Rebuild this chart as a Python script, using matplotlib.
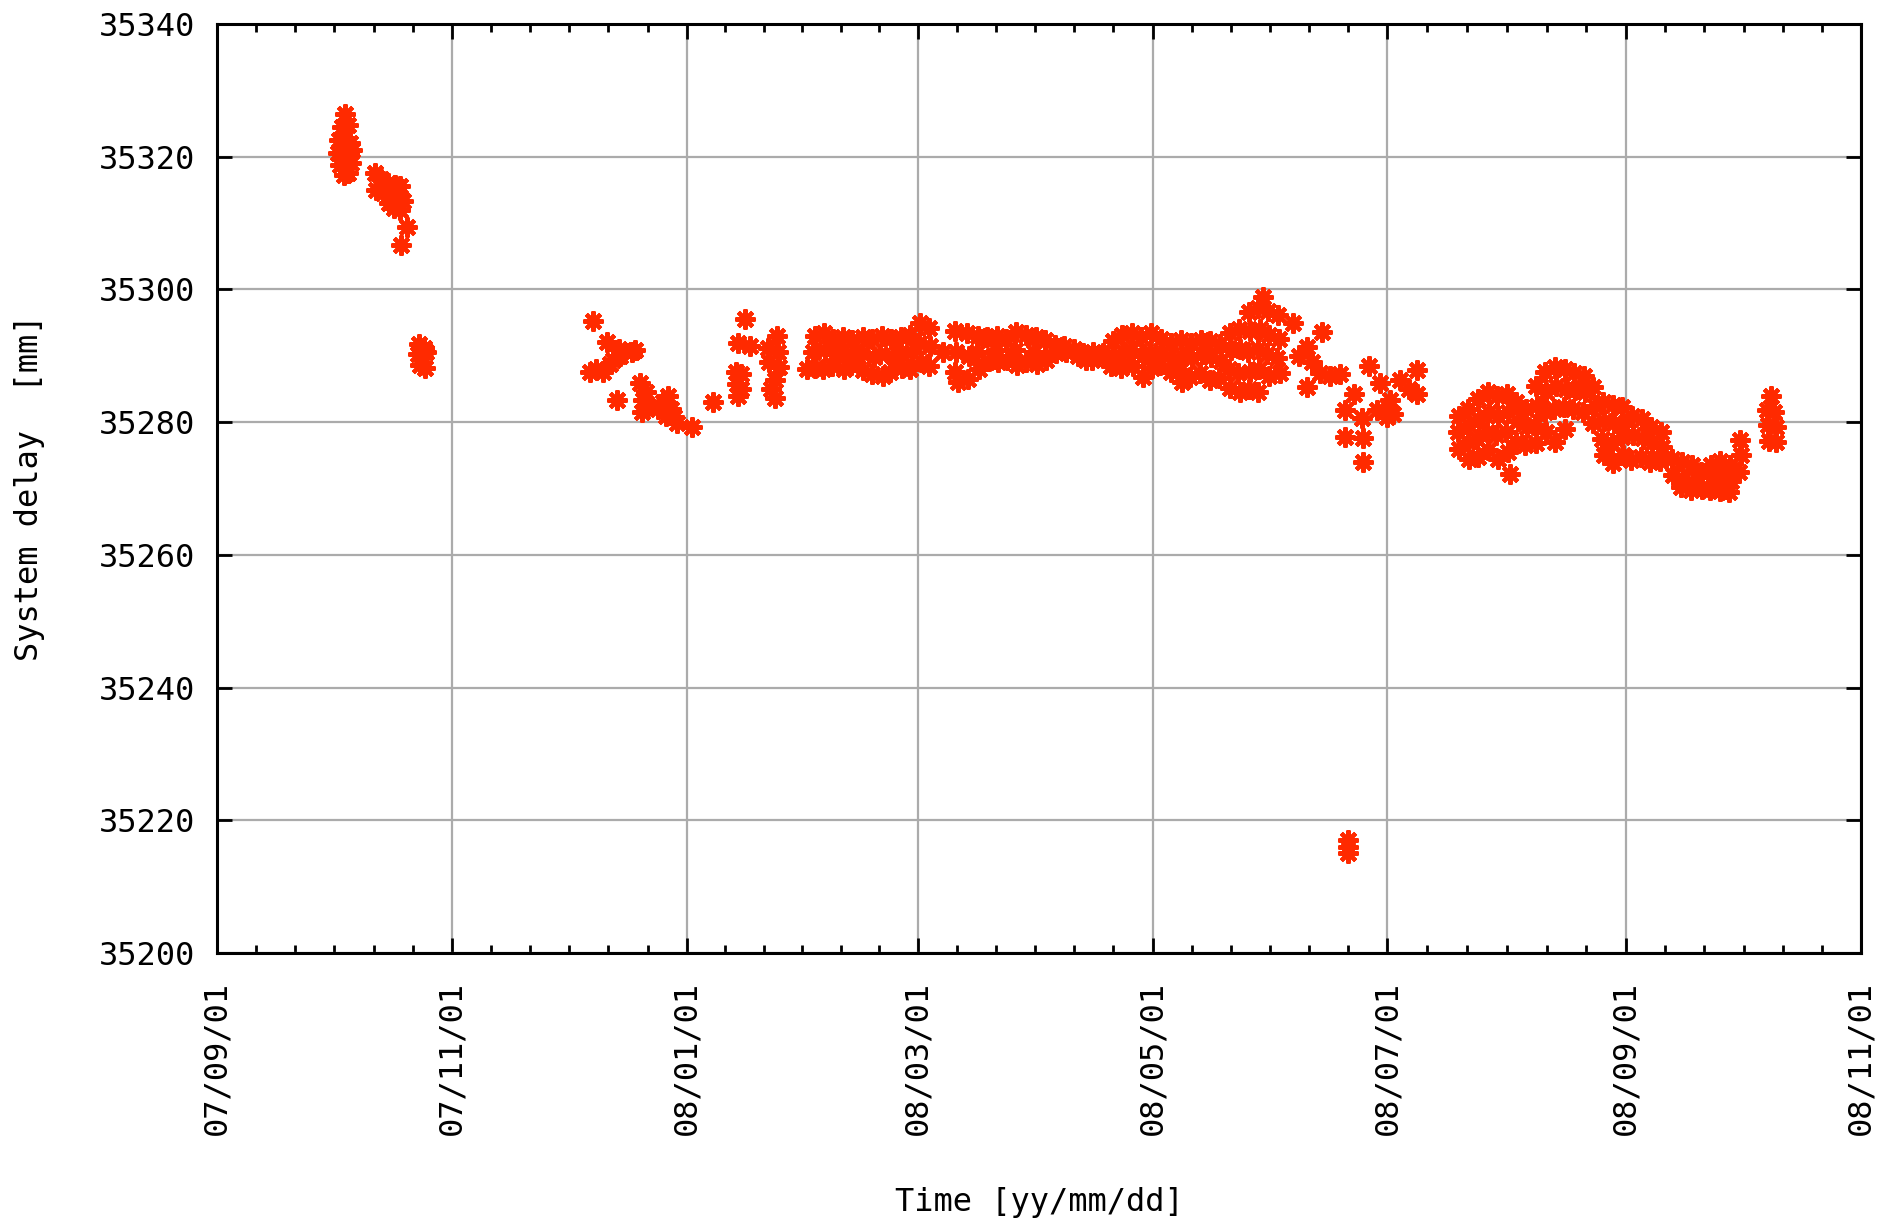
import datetime as dt

import numpy as np
import matplotlib
matplotlib.use("Agg")
import matplotlib.pyplot as plt
import matplotlib.dates as mdates
from matplotlib.ticker import FixedLocator

# -------------------------------------------------------
# System delay measurements
# (days since 2007-09-01, delay in mm)
# -------------------------------------------------------
oct07_a = [
    (33.2, 35326.5), (32.5, 35324.5), (34.0, 35324.8),
    (31.8, 35322.5), (33.0, 35322.8), (34.5, 35322.0),
    (31.5, 35320.5), (32.8, 35320.2), (34.2, 35320.6), (35.0, 35321.0),
    (32.0, 35318.8), (33.5, 35318.5), (34.8, 35319.0),
    (33.0, 35317.2), (34.0, 35317.5),
]

oct07_b = [
    (41.0, 35317.6), (42.6, 35316.6), (44.4, 35316.0), (46.3, 35315.8), (47.6, 35315.6),
    (41.3, 35315.0), (43.0, 35314.6), (45.0, 35314.4), (47.1, 35314.2),
    (44.6, 35313.0), (46.0, 35312.3), (47.6, 35312.0), (48.2, 35313.4),
    (49.4, 35309.4), (47.8, 35306.7),
]

oct07_c = [
    (52.5, 35291.8), (53.8, 35291.2), (52.2, 35290.3), (53.5, 35289.8),
    (54.2, 35290.5), (52.8, 35288.6), (53.9, 35288.2),
]

dec07_jan08 = [
    (97.6, 35295.3), (101.4, 35292.1), (107.7, 35290.6), (108.6, 35290.9),
    (96.9, 35287.6), (98.5, 35288.0), (100.3, 35287.5), (102.0, 35288.8),
    (102.9, 35289.4), (104.2, 35290.0), (104.7, 35289.9), (104.5, 35291.0),
    (103.8, 35283.4),
    (109.9, 35285.9), (111.5, 35284.5), (110.7, 35283.3), (110.3, 35281.5), (112.0, 35282.5),
    (114.5, 35282.0), (115.8, 35283.0), (117.2, 35284.0), (117.8, 35282.0),
    (118.8, 35280.8), (119.5, 35279.8), (116.5, 35281.0),
    (123.3, 35279.3), (128.8, 35283.0),
    (134.8, 35287.6), (136.0, 35287.2), (135.0, 35285.8), (136.2, 35285.0), (135.2, 35284.0),
    (137.1, 35295.6), (135.4, 35291.9), (138.4, 35291.4),
    (143.0, 35291.2), (145.4, 35293.0), (145.8, 35290.5), (143.5, 35289.0),
    (146.0, 35288.3), (145.0, 35286.4), (145.0, 35283.6), (144.0, 35285.0),
]

feb08_may08 = [
    (153.3, 35288.0),
    (155.2, 35293.0), (154.8, 35290.6), (155.4, 35288.2),
    (157.6, 35293.4), (157.9, 35290.8), (157.3, 35288.0),
    (160.1, 35292.6), (160.4, 35290.2), (159.8, 35288.4),
    (162.6, 35292.8), (162.3, 35290.6), (162.9, 35288.0),
    (165.0, 35292.4), (165.4, 35290.0), (164.8, 35288.6),
    (167.7, 35292.8), (167.4, 35290.4), (167.9, 35287.8),
    (170.2, 35292.5), (170.6, 35289.8), (170.0, 35287.2),
    (172.6, 35293.0), (172.3, 35290.2), (172.9, 35287.0),
    (175.1, 35292.6), (175.5, 35290.0), (174.8, 35287.6),
    (177.6, 35292.8), (177.3, 35290.4), (177.9, 35288.2),
    (180.1, 35293.2), (180.4, 35290.6), (179.9, 35288.0),
    (182.6, 35295.0), (182.3, 35292.0), (182.9, 35289.0),
    (185.0, 35294.2), (185.3, 35291.4), (184.8, 35288.4),
    (188.5, 35290.6),
    (191.6, 35293.8), (192.0, 35290.5), (191.8, 35287.6), (192.4, 35286.0),
    (194.8, 35293.5), (195.2, 35290.0), (195.0, 35286.5),
    (197.6, 35293.0), (197.3, 35290.5), (197.8, 35288.0),
    (200.1, 35292.8), (200.4, 35289.2),
    (202.6, 35293.0), (202.3, 35290.8), (202.9, 35289.0),
    (205.0, 35292.6), (205.3, 35289.4),
    (207.6, 35293.6), (207.3, 35290.8), (207.9, 35288.6),
    (210.2, 35293.2), (210.0, 35289.0),
    (212.6, 35292.8), (212.3, 35290.5), (212.9, 35288.7),
    (215.1, 35292.4), (215.4, 35289.4),
    (217.6, 35291.6), (218.0, 35290.4), (220.1, 35291.4), (220.4, 35290.6),
    (222.6, 35291.0), (223.5, 35290.0), (225.0, 35290.4), (225.6, 35289.4),
    (227.6, 35290.6), (227.3, 35289.4), (230.1, 35290.4), (230.4, 35289.6),
    (232.6, 35292.2), (232.9, 35289.8), (232.3, 35288.4),
    (235.0, 35293.2), (235.3, 35290.6), (234.8, 35288.2),
    (237.6, 35293.4), (237.3, 35290.8), (237.9, 35288.4),
    (240.1, 35292.8), (240.4, 35290.0), (240.5, 35286.8),
    (242.6, 35293.4), (242.3, 35290.6), (242.9, 35288.2),
    (245.1, 35292.6), (245.4, 35290.2), (244.8, 35288.6),
]

may08_jun08 = [
    (247.8, 35292.0), (248.2, 35289.5), (247.9, 35287.5),
    (250.4, 35292.4), (250.7, 35290.0), (250.2, 35287.8), (250.6, 35286.0),
    (253.0, 35292.0), (253.3, 35289.6), (252.8, 35286.8),
    (255.5, 35292.4), (255.8, 35290.2), (255.2, 35287.4),
    (258.0, 35292.2), (258.3, 35289.8), (257.8, 35286.4),
    (260.5, 35291.8), (260.8, 35289.2), (260.2, 35286.6),
    (263.0, 35293.4), (263.3, 35290.8), (262.8, 35288.0), (263.2, 35285.2),
    (265.5, 35294.0), (265.8, 35291.0), (265.3, 35287.4), (265.6, 35284.6),
    (268.0, 35296.6), (268.3, 35293.8), (267.8, 35290.6), (268.2, 35287.6), (268.0, 35285.0),
    (270.5, 35297.2), (270.8, 35294.0), (270.3, 35291.0), (270.6, 35288.0), (270.4, 35284.6),
    (271.7, 35298.8),
    (273.0, 35296.8), (273.3, 35293.2), (272.8, 35290.2), (273.2, 35287.0),
    (275.5, 35296.2), (275.8, 35292.6), (275.3, 35289.6), (276.0, 35287.4),
    (279.6, 35294.9), (281.0, 35290.0), (283.0, 35291.3), (284.5, 35289.0), (287.0, 35293.6),
    (283.0, 35285.3), (286.5, 35287.4), (289.0, 35287.0), (291.8, 35287.2),
    (299.3, 35288.5), (293.0, 35281.8), (295.2, 35284.3), (297.3, 35280.6),
    (293.0, 35277.8), (297.6, 35277.6), (297.6, 35274.0),
    (301.2, 35281.8), (302.0, 35285.9), (303.8, 35280.8), (304.7, 35283.3), (305.5, 35281.3),
    (307.3, 35286.4), (309.5, 35285.0), (311.6, 35287.9), (311.6, 35284.3),
]

jun08_outlier = [
    (293.8, 35217.0), (293.8, 35215.9), (293.8, 35215.1),
]

jul08_oct08 = [
    (322.5, 35281.0), (322.2, 35278.5), (322.6, 35276.0),
    (325.0, 35282.0), (325.3, 35279.5), (324.8, 35277.0), (325.2, 35274.5),
    (327.5, 35283.5), (327.8, 35280.5), (327.3, 35277.5), (327.6, 35274.8),
    (330.0, 35284.6), (330.3, 35281.5), (329.8, 35278.5), (330.2, 35275.8),
    (332.5, 35284.0), (332.8, 35281.0), (332.3, 35278.0), (332.6, 35274.5),
    (335.0, 35284.3), (335.3, 35281.5), (334.8, 35278.5), (335.2, 35275.5), (335.8, 35272.2),
    (337.5, 35283.0), (337.8, 35280.2), (337.3, 35277.0),
    (340.0, 35282.0), (340.3, 35279.3), (339.8, 35276.5),
    (342.5, 35285.5), (342.8, 35282.5), (342.3, 35279.5), (342.6, 35276.8),
    (345.0, 35287.5), (345.3, 35284.5), (344.8, 35281.5), (345.2, 35278.5),
    (347.5, 35288.3), (347.8, 35285.5), (347.3, 35282.0), (347.6, 35277.0),
    (350.0, 35288.0), (350.3, 35285.0), (349.8, 35282.3), (350.2, 35279.0),
    (352.5, 35287.4), (352.8, 35284.8), (352.3, 35282.0),
    (355.0, 35287.0), (355.3, 35284.5), (354.8, 35281.5),
    (357.5, 35285.3), (357.8, 35282.5), (357.3, 35279.8),
    (360.0, 35283.0), (360.3, 35280.2), (359.8, 35277.5), (360.2, 35275.0),
    (362.5, 35282.6), (362.8, 35279.8), (362.3, 35276.8), (362.6, 35273.8),
    (365.0, 35282.3), (365.3, 35279.5), (364.8, 35277.8), (365.2, 35275.0),
    (367.5, 35281.0), (367.8, 35278.0), (367.3, 35274.3),
    (370.0, 35280.5), (370.3, 35277.6), (369.8, 35274.8),
    (372.5, 35279.3), (372.8, 35276.8), (372.3, 35274.0),
    (375.0, 35278.5), (375.3, 35276.3), (374.8, 35274.2),
    (378.0, 35274.5), (378.3, 35272.0),
    (380.5, 35274.0), (380.8, 35271.5), (380.3, 35270.2),
    (383.0, 35273.5), (383.3, 35271.0), (382.8, 35269.8),
    (385.5, 35272.5), (385.8, 35270.0),
    (388.0, 35273.5), (388.3, 35271.8), (387.8, 35269.8),
    (390.5, 35274.2), (390.8, 35272.0), (390.3, 35269.6),
    (393.0, 35273.6), (393.3, 35271.2), (392.8, 35269.4),
    (395.5, 35277.3), (395.8, 35275.0), (395.3, 35272.5),
    (403.5, 35284.0), (402.5, 35281.8), (404.5, 35281.5), (402.8, 35279.5),
    (404.8, 35279.2), (403.0, 35277.2), (405.0, 35277.0),
]

segments = [oct07_a, oct07_b, oct07_c, dec07_jan08, feb08_may08,
            may08_jun08, jun08_outlier, jul08_oct08]

start = dt.datetime(2007, 9, 1)
month_starts = [dt.datetime(2007, 9, 1), dt.datetime(2007, 11, 1),
                dt.datetime(2008, 1, 1), dt.datetime(2008, 3, 1),
                dt.datetime(2008, 5, 1), dt.datetime(2008, 7, 1),
                dt.datetime(2008, 9, 1), dt.datetime(2008, 11, 1)]
y_ticks = np.arange(35200, 35341, 20)

# -------------------------------------------------------
# Plot
# -------------------------------------------------------
plt.rcParams['font.family'] = ['DejaVu Sans Mono']
FS = 23
BLACK = "#000000"
MARK = "#ff2a00"

fig = plt.figure(figsize=(18.8, 12.21), dpi=100)
ax = fig.add_axes([217 / 1880, 1 - 953 / 1221, (1861 - 217) / 1880, (953 - 24) / 1221])

t0 = mdates.date2num(start)
pts = np.array([p for seg in segments for p in seg])
x = t0 + pts[:, 0]
y = pts[:, 1]

# gnuplot-style "*" points
ax.plot(x, y, linestyle="none", marker=(8, 2, 0), markersize=14.5,
        markeredgewidth=3.0, color=MARK, zorder=3)

# axes ranges and ticks
major = mdates.date2num(month_starts)
minor = []
for a, b in zip(major[:-1], major[1:]):
    minor.extend(a + (b - a) * k / 6 for k in range(1, 6))

ax.set_xlim(major[0], major[-1])
ax.set_ylim(35200, 35340)
ax.xaxis.set_major_locator(FixedLocator(major))
ax.xaxis.set_minor_locator(FixedLocator(minor))
ax.set_xticklabels([d.strftime("%y/%m/%d") for d in month_starts],
                   rotation=90, fontsize=FS)
ax.yaxis.set_major_locator(FixedLocator(y_ticks))
ax.set_yticklabels([str(v) for v in y_ticks], fontsize=FS)

ax.tick_params(axis="both", which="major", direction="in", length=11,
               width=2.0, color=BLACK, top=True, right=True)
ax.tick_params(axis="x", which="minor", direction="in", length=5.5,
               width=2.0, color=BLACK, top=True)
ax.tick_params(axis="x", which="major", pad=20)
ax.tick_params(axis="y", which="major", pad=16)

ax.grid(True, which="major", color="#ababab", linewidth=1.6, zorder=0)
ax.set_axisbelow(True)
for s in ax.spines.values():
    s.set_linewidth(2.2)
    s.set_color(BLACK)

fig.text(1039 / 1880, 1 - 1203 / 1221, "Time [yy/mm/dd]", ha="center",
         va="center", fontsize=FS)
fig.text(30 / 1880, 1 - 488 / 1221, "System delay  [mm]", ha="center",
         va="center", rotation=90, fontsize=FS)

fig.savefig("out.png", dpi=100)
